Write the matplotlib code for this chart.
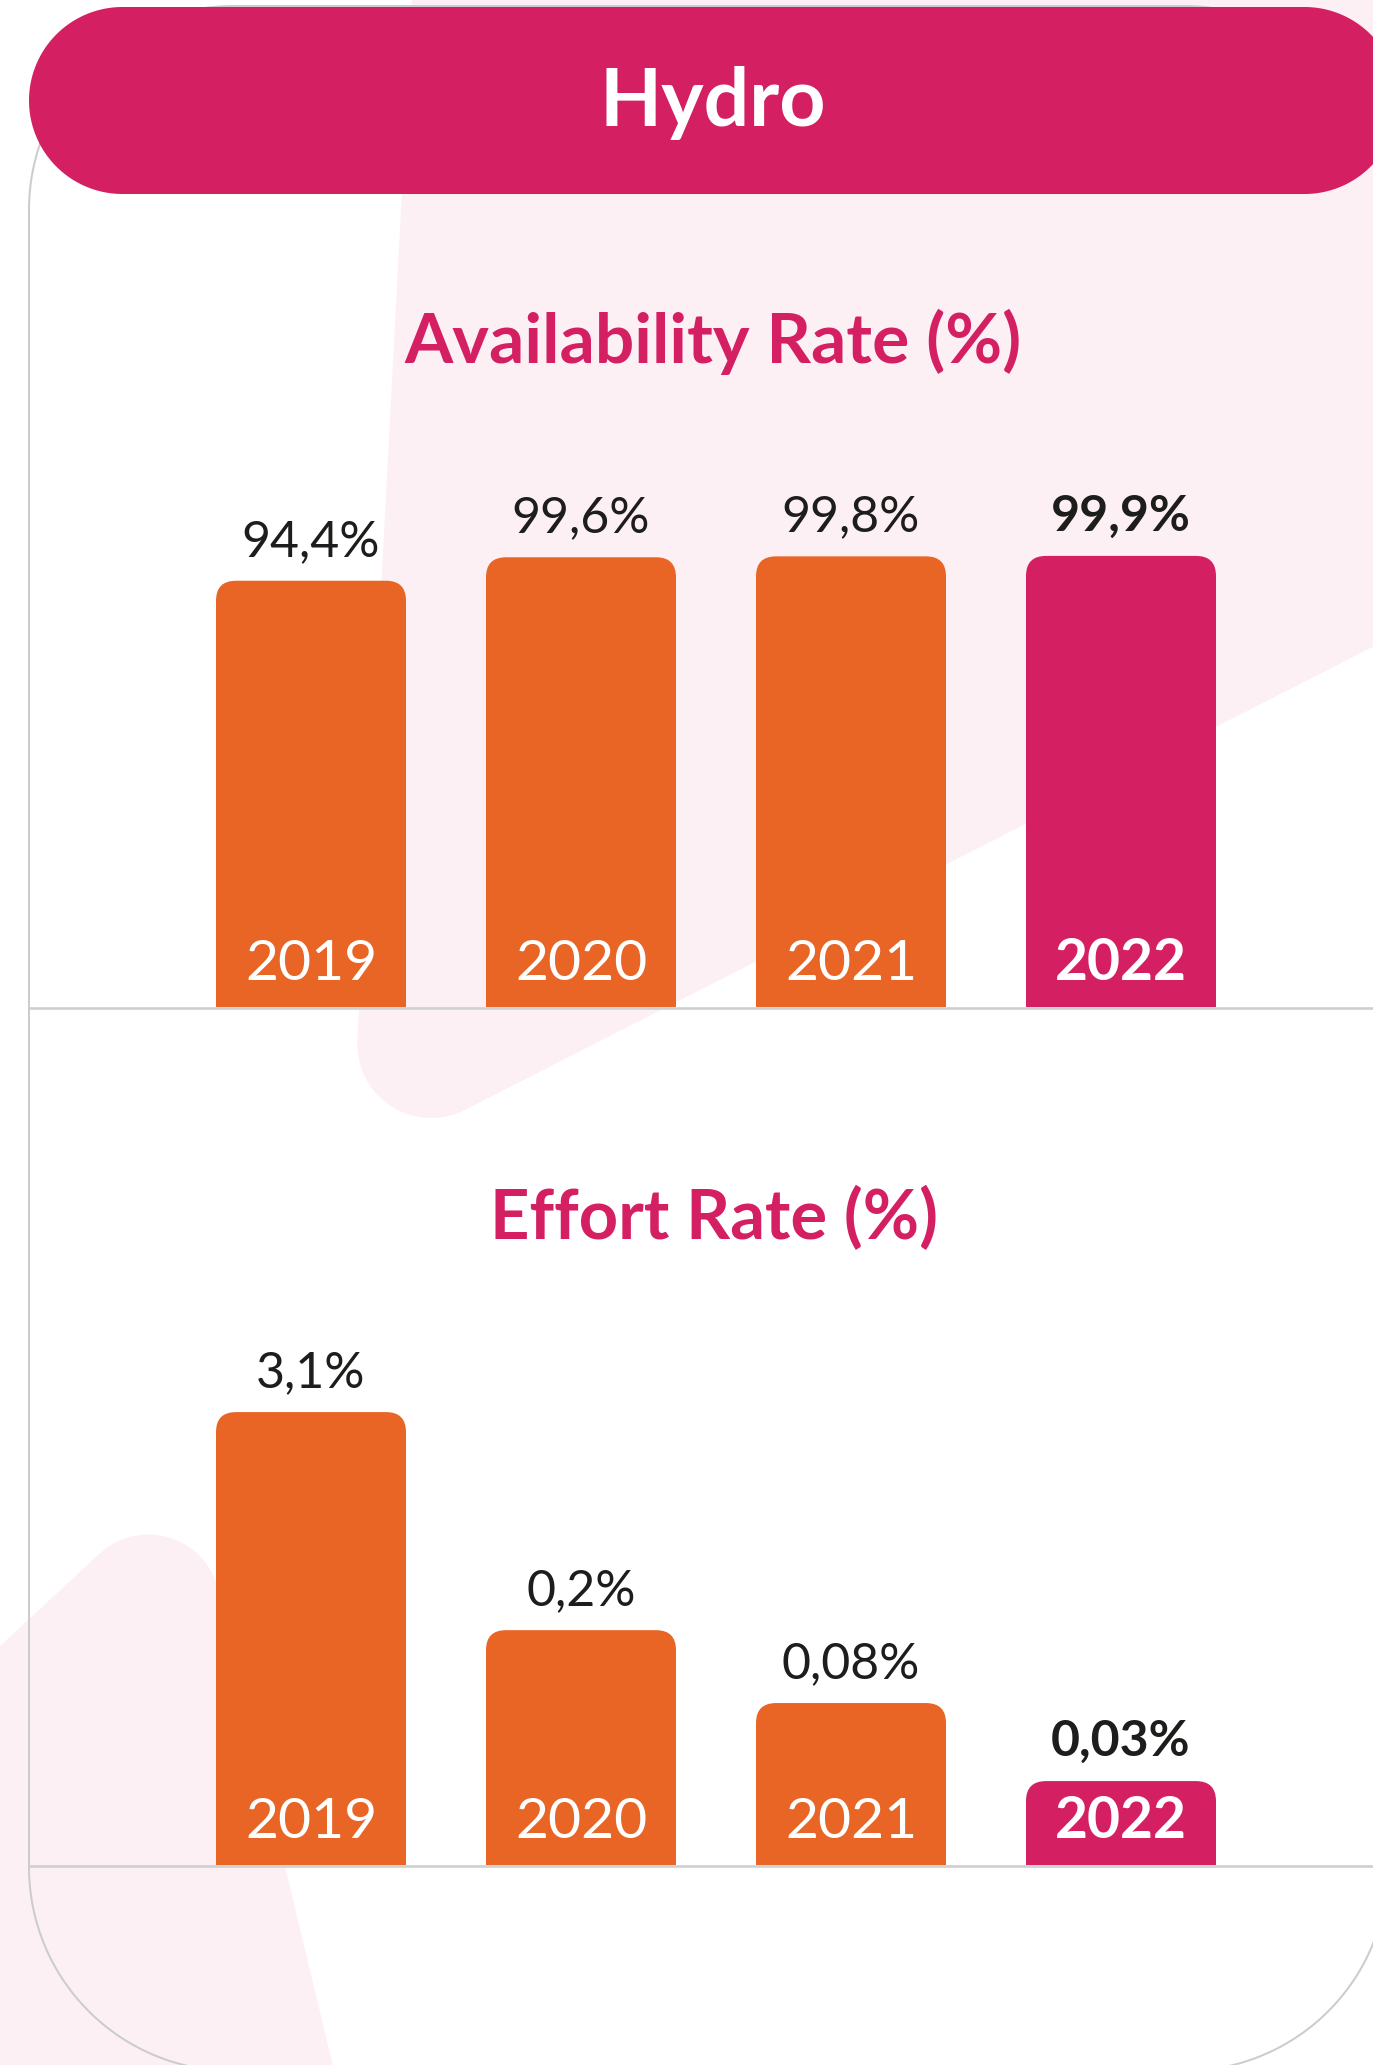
import matplotlib
matplotlib.use('Agg')
import matplotlib.pyplot as plt
import numpy as np
from matplotlib.patches import FancyBboxPatch, Polygon
import matplotlib.transforms as mtransforms

# ---------------- data ----------------
years = ['2019', '2020', '2021', '2022']
availability = [94.4, 99.6, 99.8, 99.9]
availability_labels = ['94,4%', '99,6%', '99,8%', '99,9%']
effort = [3.1, 0.2, 0.08, 0.03]
effort_labels = ['3,1%', '0,2%', '0,08%', '0,03%']
header_text = 'Hydro'
title_top = 'Availability Rate (%)'
title_bottom = 'Effort Rate (%)'

# ---------------- style ----------------
W, H, DPI = 1373, 2065, 100
ORANGE = '#E86526'
CRIMSON = '#D41F63'
PINK = '#FCF0F4'
GRAY = '#CFCFCF'
CARD = '#CCCCCC'
DARK = '#1D1D1B'
FONT = ['Lato', 'DejaVu Sans']
PX = 0.72  # points per pixel at 100 dpi

fig = plt.figure(figsize=(W / DPI, H / DPI), dpi=DPI)
fig.patch.set_facecolor('white')

# background / decoration layer in pixel coordinates
bg = fig.add_axes([0, 0, 1, 1])
bg.set_xlim(0, W)
bg.set_ylim(H, 0)
bg.axis('off')


def rounded_poly(verts, radii, n=48):
    pts = []
    N = len(verts)
    for i in range(N):
        P = np.array(verts[i], float)
        r = radii[i]
        if r <= 0:
            pts.append(P)
            continue
        A = np.array(verts[i - 1], float)
        B = np.array(verts[(i + 1) % N], float)
        u = (A - P) / np.linalg.norm(A - P)
        w = (B - P) / np.linalg.norm(B - P)
        theta = np.arccos(np.clip(u @ w, -1, 1))
        t = r / np.tan(theta / 2)
        T1 = P + u * t
        T2 = P + w * t
        bis = (u + w) / np.linalg.norm(u + w)
        C = P + bis * (r / np.sin(theta / 2))
        a1 = np.arctan2(T1[1] - C[1], T1[0] - C[0])
        a2 = np.arctan2(T2[1] - C[1], T2[0] - C[0])
        d = (a2 - a1 + np.pi) % (2 * np.pi) - np.pi
        ang = a1 + np.linspace(0, d, n)
        pts.extend(C + r * np.c_[np.cos(ang), np.sin(ang)])
    return np.array(pts)


# faint pink decorative shapes
shape1 = rounded_poly([(414.6, -50), (1450, -50), (1450, 607.5), (350.7, 1168.2)],
                      [0, 0, 0, 74])
bg.add_patch(Polygon(shape1, closed=True, facecolor=PINK, edgecolor='none', zorder=1))
shape2 = rounded_poly([(-100, 1739), (189.6, 1470), (346, 2120), (-100, 2120)],
                      [0, 72, 0, 0])
bg.add_patch(Polygon(shape2, closed=True, facecolor=PINK, edgecolor='none', zorder=1))

# card outline
card = rounded_poly([(29, 6), (1388, 6), (1388, 2071), (29, 2071)], [204] * 4, n=90)
bg.add_patch(Polygon(card, closed=True, facecolor='none', edgecolor=CARD,
                     lw=2 * PX, zorder=2))

# header pill
pill = rounded_poly([(29, 7), (1398, 7), (1398, 194), (29, 194)], [93.5] * 4, n=90)
bg.add_patch(Polygon(pill, closed=True, facecolor=CRIMSON, edgecolor='none', zorder=3))
bg.text(713, 126, header_text, ha='center', va='baseline', color='white',
        fontsize=58, fontweight='bold', family=FONT, zorder=4)

# section titles
bg.text(713, 363, title_top, ha='center', va='baseline', color=CRIMSON,
        fontsize=50, fontweight='bold', family=FONT, zorder=4)
bg.text(714, 1239, title_bottom, ha='center', va='baseline', color=CRIMSON,
        fontsize=49.5, fontweight='bold', family=FONT, zorder=4)

# baselines
for yb in (1008.3, 1866.3):
    bg.plot([29, 1373], [yb, yb], color=GRAY, lw=2.6 * PX, zorder=2,
            solid_capstyle='butt')

# ---------------- charts ----------------
X0, X1 = 29, 1373
CENTER0, STEP = 311, 270
xlim = ((X0 - CENTER0) / STEP, (X1 - CENTER0) / STEP)
BAR_W = 190 / STEP
colors = [ORANGE, ORANGE, ORANGE, CRIMSON]
xpos = np.arange(len(years))


def make_axes(base_px, height_px):
    ax = fig.add_axes([X0 / W, (H - base_px) / H, (X1 - X0) / W, height_px / H])
    ax.set_xlim(*xlim)
    ax.axis('off')
    ax.patch.set_alpha(0)
    return ax


def round_bars(ax, bars, r=20):
    for rect in bars:
        bb = rect.get_window_extent()
        p = FancyBboxPatch((bb.x0, bb.y0 - r), bb.width, bb.height + r,
                           boxstyle=f'round,pad=0,rounding_size={r}',
                           transform=mtransforms.IdentityTransform(),
                           facecolor=rect.get_facecolor(), edgecolor='none', zorder=2)
        ax.add_artist(p)
        rect.set_visible(False)


def annotate(ax, values, labels):
    for i, (v, lab, yr) in enumerate(zip(values, labels, years)):
        bold = 'bold' if i == len(values) - 1 else 'normal'
        ax.annotate(lab, xy=(xpos[i], v), xytext=(0, 25 * PX), textcoords='offset points',
                    ha='center', va='baseline', fontsize=36, color=DARK,
                    fontweight=bold, family=FONT, zorder=4)
        ax.annotate(yr, xy=(xpos[i], 0), xycoords=('data', 'axes fraction'),
                    xytext=(0, 27 * PX), textcoords='offset points',
                    ha='center', va='baseline', fontsize=41, color='white',
                    fontweight=bold, family=FONT, zorder=4)


# availability (linear)
ax1 = make_axes(1007, 496.7)
ax1.set_ylim(0, 110)
b1 = ax1.bar(xpos, availability, width=BAR_W, color=colors)
round_bars(ax1, b1)
annotate(ax1, availability, availability_labels)

# effort (log scale)
ax2 = make_axes(1865, 546.1)
ax2.set_yscale('log')
ylo, yhi = 0.01045, 10
ax2.set_ylim(ylo, yhi)
b2 = ax2.bar(xpos, np.array(effort) - ylo, bottom=ylo, width=BAR_W, color=colors)
round_bars(ax2, b2)
annotate(ax2, effort, effort_labels)

fig.savefig('out.png', dpi=DPI, facecolor='white')
